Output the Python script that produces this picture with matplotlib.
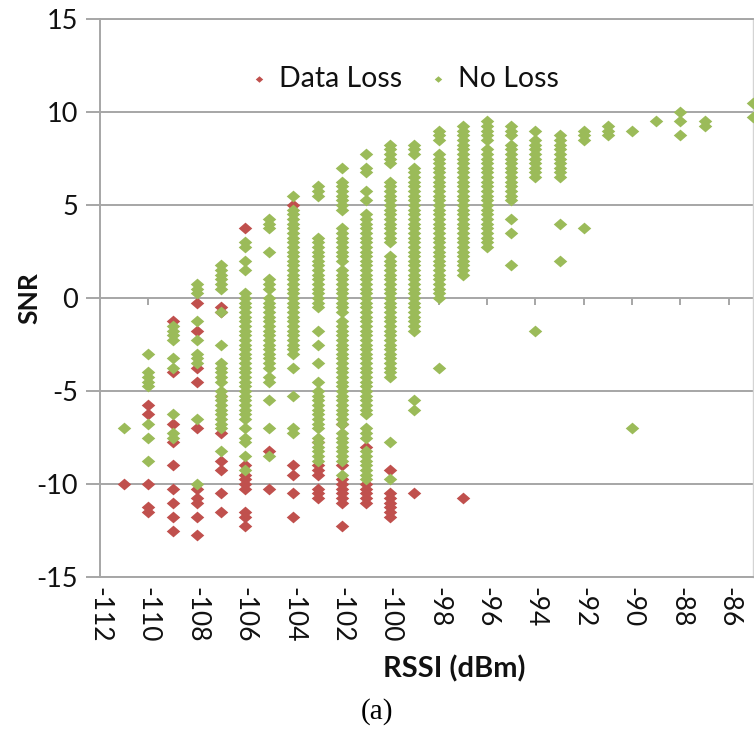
import matplotlib
matplotlib.use("Agg")
import matplotlib.pyplot as plt
from matplotlib.path import Path
import numpy as np

# ---------------- data ----------------
rssi_levels = [-111, -110, -109, -108, -107, -106, -105, -104, -103, -102, -101,
               -100, -99, -98, -97, -96, -95, -94, -93, -92, -91, -90, -89,
               -88, -87, -86, -85]

data_loss_snr = [
    [-10.0],
    [-5.75, -6.25, -10.0, -11.25, -11.5],
    [-1.25, -4.0, -6.75, -7.75, -9.0, -10.25, -11.0, -11.75, -12.5],
    [-0.25, -1.75, -3.75, -4.5, -7.0, -10.25, -10.75, -11.0, -11.75, -12.75],
    [-0.5, -0.75, -5.25, -7.25, -8.75, -9.25, -10.5, -11.5],
    [3.75, -9.0, -9.5, -9.75, -10.0, -10.25, -11.5, -11.75, -12.25],
    [-8.25, -10.25],
    [5.0, -9.0, -9.5, -10.5, -11.75],
    [-7.75, -9.0, -9.25, -9.5, -10.25, -10.5, -10.75],
    [-6.75, -9.0, -9.75, -10.0, -10.25, -10.5, -10.75, -11.0, -12.25],
    [-8.0, -10.0, -10.25, -10.5, -10.75, -11.0],
    [-9.25, -10.5, -10.75, -11.0, -11.25, -11.5, -11.75],
    [-10.5],
    [],
    [-10.75],
    [], [], [], [], [], [], [], [], [], [], [], [],
]

no_loss_snr = [
    [-7.0],
    [-3.0, -4.0, -4.25, -4.5, -4.75, -6.75, -7.5, -8.75],
    [-1.5, -1.75, -2.0, -2.25, -3.25, -3.75, -6.25, -7.25, -7.5],
    [0.75, 0.5, 0.25, -1.25, -2.25, -3.0, -3.25, -3.5, -6.5, -10.0],
    [1.75, 1.5, 1.25, 1.0, 0.75, 0.5, -0.75, -2.5, -3.5, -3.75, -4.0, -4.25,
     -4.5, -5.0, -5.25, -5.5, -5.75, -6.0, -6.25, -6.5, -6.75, -7.0, -8.25],
    [3.0, 2.75, 2.0, 1.5, 0.25, 0.0, -0.25, -0.5, -0.75, -1.0, -1.25, -1.5,
     -1.75, -2.0, -2.25, -2.5, -2.75, -3.0, -3.25, -3.5, -3.75, -4.0, -4.25,
     -4.5, -4.75, -5.0, -5.25, -5.5, -5.75, -6.0, -6.25, -6.5, -7.0, -7.5,
     -7.75, -8.5, -9.25],
    [4.25, 4.0, 3.75, 2.5, 1.0, 0.75, 0.5, 0.0, -0.25, -0.5, -0.75, -1.0,
     -1.25, -1.5, -1.75, -2.0, -2.25, -2.5, -2.75, -3.0, -3.25, -3.5, -3.75,
     -4.25, -4.5, -5.5, -7.0, -8.5],
    [5.5, 4.75, 4.5, 4.25, 4.0, 3.75, 3.5, 3.25, 3.0, 2.75, 2.5, 2.25, 2.0,
     1.75, 1.5, 1.25, 1.0, 0.75, 0.5, 0.25, 0.0, -0.25, -0.5, -0.75, -1.0,
     -1.25, -1.5, -1.75, -2.0, -2.25, -2.5, -2.75, -3.0, -3.75, -5.25, -7.0,
     -7.25],
    [6.0, 5.75, 5.5, 3.25, 3.0, 2.75, 2.5, 2.25, 2.0, 1.75, 1.5, 1.25, 1.0,
     0.75, 0.5, 0.25, 0.0, -0.25, -0.5, -1.75, -2.5, -3.5, -4.5, -5.0, -5.25,
     -5.5, -5.75, -6.0, -6.25, -6.5, -6.75, -7.0, -7.5, -7.75, -8.0, -8.25,
     -8.5, -8.75],
    [7.0, 6.25, 6.0, 5.75, 5.5, 5.25, 5.0, 4.75, 3.75, 3.5, 3.25, 3.0, 2.75,
     2.5, 2.25, 2.0, 1.5, 1.25, 1.0, 0.75, 0.5, 0.25, 0.0, -0.25, -0.5, -0.75,
     -1.25, -1.5, -1.75, -2.0, -2.25, -2.5, -2.75, -3.0, -3.25, -3.5, -3.75,
     -4.0, -4.25, -4.5, -4.75, -5.0, -5.25, -5.5, -5.75, -6.0, -6.25, -6.5,
     -6.75, -7.25, -7.5, -7.75, -8.0, -8.25, -8.5, -8.75, -9.5],
    [7.75, 7.0, 6.75, 5.75, 5.25, 4.5, 4.25, 4.0, 3.75, 3.5, 3.25, 3.0, 2.75,
     2.5, 2.25, 2.0, 1.75, 1.5, 1.25, 1.0, 0.75, 0.5, 0.25, 0.0, -0.25, -0.5,
     -0.75, -1.0, -1.25, -1.5, -1.75, -2.0, -2.25, -2.5, -2.75, -3.0, -3.25,
     -3.5, -3.75, -4.0, -4.25, -4.5, -4.75, -5.0, -5.25, -5.5, -5.75, -6.0,
     -6.25, -7.0, -7.25, -7.5, -8.25, -8.5, -8.75, -9.0, -9.25, -9.5, -9.75],
    [8.25, 8.0, 7.75, 7.5, 7.25, 6.25, 6.0, 5.75, 5.5, 5.25, 5.0, 4.75, 4.5,
     4.25, 4.0, 3.75, 3.5, 3.25, 3.0, 2.25, 2.0, 1.75, 1.5, 1.25, 1.0, 0.75,
     0.5, 0.25, 0.0, -0.25, -0.5, -0.75, -1.0, -1.25, -1.5, -1.75, -2.0,
     -2.25, -2.5, -2.75, -3.0, -3.25, -3.5, -3.75, -4.0, -4.25, -7.75, -9.75],
    [8.25, 8.0, 7.75, 7.0, 6.75, 6.5, 6.25, 6.0, 5.75, 5.5, 5.25, 5.0, 4.75,
     4.5, 4.25, 4.0, 3.75, 3.5, 3.25, 3.0, 2.75, 2.5, 2.25, 2.0, 1.75, 1.5,
     1.25, 1.0, 0.75, 0.5, 0.25, 0.0, -0.25, -0.5, -0.75, -1.0, -1.25, -1.5,
     -1.75, -5.5, -6.0],
    [9.0, 8.75, 8.5, 7.75, 7.5, 7.25, 7.0, 6.75, 6.5, 6.25, 6.0, 5.75, 5.5,
     5.25, 5.0, 4.75, 4.5, 4.25, 4.0, 3.75, 3.5, 3.25, 3.0, 2.75, 2.5, 2.25,
     2.0, 1.75, 1.5, 1.25, 1.0, 0.75, 0.5, 0.25, 0.0, -3.75],
    [9.25, 9.0, 8.75, 8.5, 8.25, 8.0, 7.75, 7.5, 7.25, 7.0, 6.75, 6.5, 6.25,
     6.0, 5.75, 5.5, 5.25, 5.0, 4.75, 4.5, 4.25, 4.0, 3.75, 3.5, 3.25, 3.0,
     2.75, 2.5, 2.25, 2.0, 1.75, 1.5, 1.25],
    [9.5, 9.25, 9.0, 8.75, 8.5, 8.0, 7.75, 7.5, 7.25, 7.0, 6.75, 6.5, 6.25,
     6.0, 5.75, 5.5, 5.25, 5.0, 4.75, 4.5, 4.25, 4.0, 3.75, 3.5, 3.25, 3.0,
     2.75],
    [9.25, 9.0, 8.75, 8.25, 8.0, 7.75, 7.5, 7.25, 7.0, 6.75, 6.5, 6.25, 6.0,
     5.75, 5.5, 5.25, 4.25, 3.5, 1.75],
    [9.0, 8.5, 8.25, 8.0, 7.75, 7.5, 7.25, 7.0, 6.75, 6.5, -1.75],
    [8.75, 8.5, 8.25, 8.0, 7.75, 7.5, 7.25, 7.0, 6.75, 6.5, 4.0, 2.0],
    [9.0, 8.75, 8.5, 3.75],
    [9.25, 9.0, 8.75],
    [9.0, -7.0],
    [9.5],
    [10.0, 9.5, 8.75],
    [9.5, 9.25],
    [],
    [10.5, 9.75],
]

series_names = ["Data Loss", "No Loss"]
x_ticks = list(range(-112, -85, 2))
y_ticks = [-15, -10, -5, 0, 5, 10, 15]

# ---------------- style ----------------
RED = "#C0504D"
GREEN = "#9BBB59"
GRID = "#A6A6A6"
TXT = "#111111"
plt.rcParams["font.family"] = ["Lato", "DejaVu Sans"]

def flatten(levels, cols):
    xs, ys = [], []
    for r, col in zip(levels, cols):
        for v in col:
            xs.append(r)
            ys.append(v)
    return np.array(xs), np.array(ys)

diamond = Path([(0, 1), (1.15, 0), (0, -1), (-1.15, 0), (0, 1)],
               [Path.MOVETO, Path.LINETO, Path.LINETO, Path.LINETO, Path.CLOSEPOLY])

fig = plt.figure(figsize=(7.54, 7.35), dpi=100)
ax = fig.add_axes([100 / 754, 1 - 577 / 735, 653 / 754, 558 / 735])

xl, yl = flatten(rssi_levels, data_loss_snr)
xn, yn = flatten(rssi_levels, no_loss_snr)
ax.scatter(xl, yl, marker=diamond, s=95, color=RED, linewidths=0,
           label=series_names[0], zorder=3)
ax.scatter(xn, yn, marker=diamond, s=95, color=GREEN, linewidths=0,
           label=series_names[1], zorder=4)

ax.set_xlim(-112, -85)
ax.set_ylim(-15, 15)

ax.set_yticks(y_ticks)
ax.set_yticklabels([str(v) for v in y_ticks])
ax.yaxis.grid(True, color=GRID, linewidth=1.4)
ax.xaxis.grid(False)
ax.set_axisbelow(True)

ax.set_xticks(x_ticks)
ax.set_xticklabels([str(v) for v in x_ticks], rotation=270, va="top", ha="center")
ax.tick_params(axis="x", length=0, pad=7, labelsize=19, labelcolor=TXT)
ax.tick_params(axis="y", direction="out", length=10, width=1.4, color=GRID,
               pad=6, labelsize=19.5, labelcolor=TXT)

# tick marks on the SNR = 0 line (horizontal axis crosses at 0)
ax.vlines(x_ticks, -0.4, 0, colors=GRID, linewidth=1.4, zorder=2)

for side in ("left", "top", "bottom"):
    ax.spines[side].set_color(GRID)
    ax.spines[side].set_linewidth(1.4)
ax.spines["right"].set_color("#D4D4D4")
ax.spines["right"].set_linewidth(1.0)

fig.text(29 / 754, 1 - 298 / 735, "SNR", rotation=90, ha="center", va="center",
         fontsize=19, fontweight="bold", color=TXT)
fig.text(454 / 754, 1 - 669 / 735, "RSSI (dBm)", ha="center", va="center",
         fontsize=21, fontweight="bold", color=TXT)
fig.text(377 / 754, 1 - 712 / 735, "(a)", ha="center", va="center",
         fontsize=21, family=["Liberation Serif", "DejaVu Serif"], color="black")

leg = ax.legend(loc="center", bbox_to_anchor=(0.461, 0.893), ncol=2, frameon=False,
                fontsize=20.5, markerscale=0.55, handletextpad=0.15,
                columnspacing=0.7, handlelength=1.1)
for t in leg.get_texts():
    t.set_color(TXT)

fig.savefig("out.png", dpi=100)
